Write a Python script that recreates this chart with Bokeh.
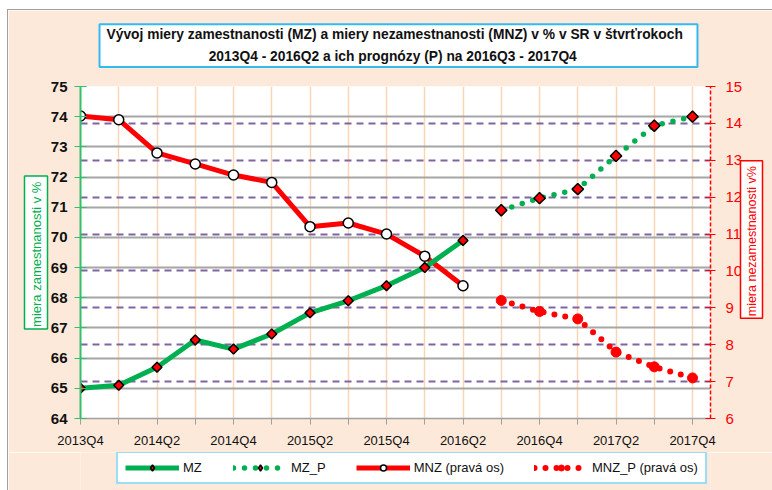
import math
from bokeh.plotting import figure
from bokeh.layouts import column
from bokeh.models import (Range1d, LinearAxis, FixedTicker, Grid, Label, Legend,
                          LegendItem, ColumnDataSource, Title)
from bokeh.embed import file_html
from bokeh.resources import INLINE

quarters = ["2013Q4", "2014Q1", "2014Q2", "2014Q3", "2014Q4", "2015Q1", "2015Q2",
            "2015Q3", "2015Q4", "2016Q1", "2016Q2", "2016Q3", "2016Q4", "2017Q1",
            "2017Q2", "2017Q3", "2017Q4"]
mz = [65.0, 65.1, 65.7, 66.6, 66.3, 66.8, 67.5, 67.9, 68.4, 69.0, 69.9]
mz_p = [70.9, 71.3, 71.6, 72.7, 73.7, 74.0]
mnz = [14.2, 14.1, 13.2, 12.9, 12.6, 12.4, 11.2, 11.3, 11.0, 10.4, 9.6]
mnz_p = [9.2, 8.9, 8.7, 7.8, 7.4, 7.1]
left_ticks = list(range(64, 76))
right_ticks = list(range(6, 16))

FONT = "Liberation Sans"
GREEN = "#00B050"
RED = "#FF0000"
PURPLE = "#8064A2"
PEACH_BG = "#FDE9D9"
BLUE = "#33BBEE"

n_hist = len(mz)
x_hist = list(range(n_hist))
x_fc = list(range(n_hist, n_hist + len(mz_p)))

src_mz = ColumnDataSource(dict(x=x_hist, y=mz))
src_mzp = ColumnDataSource(dict(x=x_fc, y=mz_p))
src_mnz = ColumnDataSource(dict(x=x_hist, y=mnz))
src_mnzp = ColumnDataSource(dict(x=x_fc, y=mnz_p))

p = figure(frame_width=630, frame_height=332, output_backend="svg", toolbar_location=None,
           x_range=Range1d(0, 16.47), y_range=Range1d(64, 75),
           min_border_left=72, min_border_right=62, min_border_top=76, min_border_bottom=34,
           background_fill_color="white", border_fill_color=PEACH_BG, outline_line_color=None)
p.extra_y_ranges = {"right": Range1d(6, 15)}

# axes
xa = p.xaxis[0]
xa.ticker = FixedTicker(ticks=list(range(len(quarters))))
xa.major_label_overrides = {i: (q if i % 2 == 0 else "") for i, q in enumerate(quarters)}
xa.axis_line_color = "#A0A0A0"
xa.axis_line_width = 1.5
xa.major_tick_line_color = "#A0A0A0"
xa.major_tick_out = 6
xa.major_tick_in = 0
xa.minor_tick_line_color = None
xa.major_label_standoff = 8
xa.major_label_text_font = FONT
xa.major_label_text_font_size = "13px"
xa.major_label_text_color = "#111111"

ya = p.yaxis[0]
ya.ticker = FixedTicker(ticks=left_ticks)
ya.axis_line_color = "#33C06A"
ya.axis_line_width = 2
ya.major_tick_line_color = "#33C06A"
ya.major_tick_out = 6
ya.major_tick_in = 6
ya.minor_tick_line_color = None
ya.major_label_standoff = 7
ya.major_label_text_font = FONT
ya.major_label_text_font_style = "bold"
ya.major_label_text_font_size = "15px"
ya.major_label_text_color = "#111111"

ra = LinearAxis(y_range_name="right", ticker=FixedTicker(ticks=right_ticks))
ra.axis_line_color = RED
ra.axis_line_width = 1.5
ra.axis_line_dash = "4 2"
ra.major_tick_line_color = RED
ra.major_tick_out = 5
ra.major_tick_in = 5
ra.minor_tick_line_color = None
ra.major_label_standoff = 10
ra.major_label_text_font = FONT
ra.major_label_text_font_size = "15px"
ra.major_label_text_color = RED
p.add_layout(ra, "right")

# grids
p.xgrid.ticker = FixedTicker(ticks=list(range(len(quarters))))
p.xgrid.grid_line_color = "#FBD4B4"
p.xgrid.grid_line_width = 1.5
p.ygrid.ticker = FixedTicker(ticks=left_ticks)
p.ygrid.grid_line_color = "#A6A6A6"
p.ygrid.grid_line_width = 2
rgrid = Grid(dimension=1, y_range_name="right", ticker=FixedTicker(ticks=right_ticks),
             grid_line_color=PURPLE, grid_line_width=2, grid_line_dash="7 5")
p.add_layout(rgrid)

# series styles
mnz_line = dict(line_color=RED, line_width=5)
mnz_mark = dict(marker="circle", size=10, fill_color="white", line_color="black", line_width=1.5)
mz_line = dict(line_color=GREEN, line_width=5)
mz_mark = dict(marker="square", angle=math.pi / 4, size=7, fill_color=RED,
               line_color="black", line_width=1.5)
mzp_line = dict(line_color=GREEN, line_width=5.5, line_dash="0 11", line_cap="round")
mzp_mark = dict(marker="square", angle=math.pi / 4, size=8, fill_color=RED,
                line_color="black", line_width=1.5)
mnzp_line = dict(line_color=RED, line_width=6, line_dash="0 11", line_cap="round")
mnzp_mark = dict(marker="circle", size=10, fill_color=RED, line_color=RED, line_width=1)

# legend glyph versions (legend swatches ignore marker rotation, so use a diamond there)
leg_diamond = dict(marker="diamond", size=10, fill_color=RED, line_color="black", line_width=1.5)

series = [("MZ", src_mz, mz_line, leg_diamond),
          ("MZ_P", src_mzp, mzp_line, leg_diamond),
          ("MNZ (pravá os)", src_mnz, mnz_line, mnz_mark),
          ("MNZ_P (pravá os)", src_mnzp, mnzp_line, mnzp_mark)]

p.line("x", "y", source=src_mnz, y_range_name="right", **mnz_line)
p.scatter("x", "y", source=src_mnz, y_range_name="right", **mnz_mark)
p.line("x", "y", source=src_mz, **mz_line)
p.scatter("x", "y", source=src_mz, **mz_mark)
p.line("x", "y", source=src_mzp, **mzp_line)
p.scatter("x", "y", source=src_mzp, **mzp_mark)
p.line("x", "y", source=src_mnzp, y_range_name="right", **mnzp_line)
p.scatter("x", "y", source=src_mnzp, y_range_name="right", **mnzp_mark)

# title box (label in the above panel)
title = Label(x=318, y=41, x_units="screen", y_units="screen",
              text="Vývoj miery zamestnanosti  (MZ) a miery nezamestnanosti  (MNZ) v % v SR v štvrťrokoch\n2013Q4  - 2016Q2  a ich prognózy (P) na 2016Q3  - 2017Q4",
              text_align="center", text_baseline="middle", text_font=FONT,
              text_font_style="bold", text_font_size="13.8px", text_color="#111111",
              text_line_height=1.45,
              background_fill_color="white", border_line_color=BLUE, border_line_width=2,
              padding=dict(left=7, right=7, top=3, bottom=3))
p.add_layout(title, "above")

# axis title boxes
lab_l = Title(text="miera zamestnanosti  v %", align="center", text_font=FONT,
              text_font_size="13px", text_font_style="normal", text_color=GREEN,
              background_fill_color="white", border_line_color=GREEN, border_line_width=1.5,
              padding=dict(left=2, right=2, top=4, bottom=4), standoff=0)
p.add_layout(lab_l, "left")
lab_r = Label(x=6, y=179, x_units="screen", y_units="screen",
              text="miera nezamestnanosti  v%", angle=math.pi / 2,
              text_align="center", text_baseline="middle", text_font=FONT,
              text_font_size="12.5px", text_color=RED,
              background_fill_color="white", border_line_color=RED, border_line_width=1.5,
              padding=dict(left=2, right=2, top=4, bottom=4))
p.add_layout(lab_r, "right")

# legend strip: a second figure whose view range lies away from the data,
# so only the legend entries of the same series are visible
lg = figure(width=764, height=38, output_backend="svg", toolbar_location=None,
            x_axis_type=None, y_axis_type=None, min_border=0,
            x_range=Range1d(-10, -9), y_range=Range1d(-10, -9),
            background_fill_color=PEACH_BG, border_fill_color=PEACH_BG, outline_line_color=None)
lg.xgrid.visible = False
lg.ygrid.visible = False
items = []
for label, src, ls, ms in series:
    rl = lg.line("x", "y", source=src, **ls)
    rm = lg.scatter("x", "y", source=src, **ms)
    items.append(LegendItem(label=label, renderers=[rl, rm]))

legend = Legend(items=items, orientation="horizontal", location=(36, 6),
                glyph_width=54, glyph_height=15, label_standoff=4, spacing=30, padding=7,
                margin=0, label_text_font=FONT, label_text_font_size="13px",
                label_text_color="#111111", background_fill_color="white",
                background_fill_alpha=1.0, border_line_color=BLUE, border_line_width=2)
lg.add_layout(legend)

page = column(p, lg, spacing=0)
page.styles = {"margin-left": "7px", "margin-top": "9px",
               "border-left": "1px solid #A0A0A0", "border-top": "1px solid #A0A0A0"}

open("out.html", "w").write(file_html(page, INLINE))
